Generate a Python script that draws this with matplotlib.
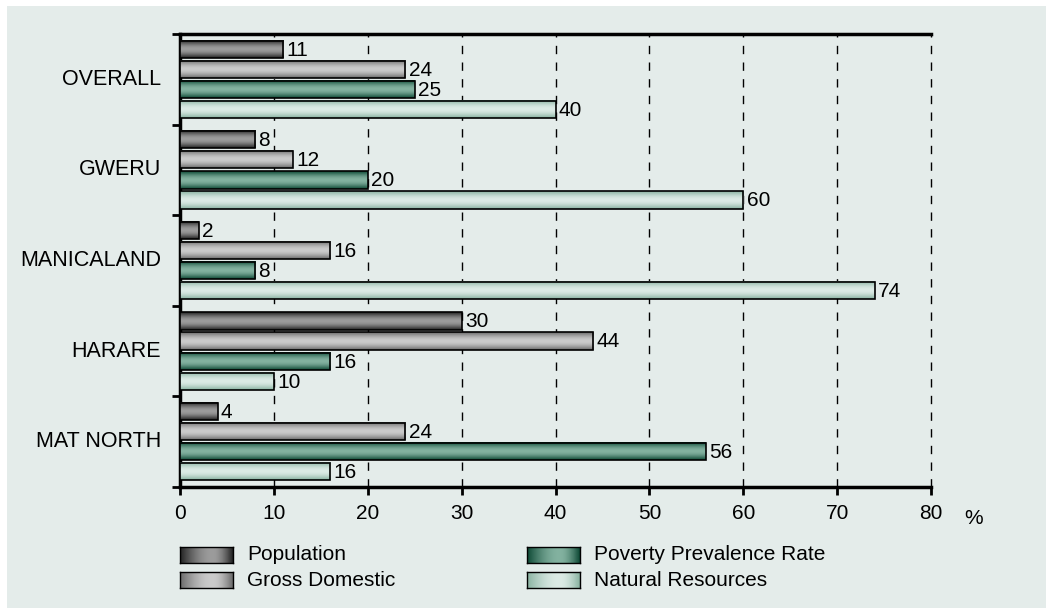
import numpy as np
import matplotlib.pyplot as plt
from matplotlib.colors import to_rgb

regions = ['OVERALL', 'GWERU', 'MANICALAND', 'HARARE', 'MAT NORTH']
series = ['Population', 'Gross Domestic', 'Poverty Prevalence Rate', 'Natural Resources']
population = [11, 8, 2, 30, 4]
gross_domestic = [24, 12, 16, 44, 24]
poverty = [25, 20, 8, 16, 56]
natural = [40, 60, 74, 10, 16]
values = [population, gross_domestic, poverty, natural]

# (edge colour, centre colour) for each series gradient
shades = [('#242424', '#9c9c9c'),
          ('#6c6c6c', '#cbcbcb'),
          ('#0f4a36', '#83b2a0'),
          ('#8ab3a2', '#dcebe5')]

bg = '#e4ecea'
plt.rcParams['font.family'] = ['Liberation Sans', 'DejaVu Sans']

W, H = 1046, 608
fig = plt.figure(figsize=(W / 100, H / 100), dpi=100)
fig.patch.set_facecolor('white')
# light background panel with small white margin on top/left
fig.patches.append(plt.Rectangle((7 / W, 0), 1, 1 - 6 / H, transform=fig.transFigure,
                                 facecolor=bg, edgecolor='none', zorder=-10))


def grad(c_edge, c_mid, n=64, horizontal=False):
    t = np.linspace(0, 1, n)
    if horizontal:
        # light spot sits a bit right of centre in the legend swatches
        f = np.where(t < 0.62, np.sin(np.pi * t / 1.24), np.sin(np.pi * (1 - t) / 0.76))
    else:
        f = np.sin(np.pi * t) ** 1.1
    e = np.array(to_rgb(c_edge))
    m = np.array(to_rgb(c_mid))
    img = e[None, :] + (m - e)[None, :] * f[:, None]
    if horizontal:
        return img[None, :, :]
    return img[:, None, :]


ax = fig.add_axes([180 / W, 1 - 487 / H, (931 - 180) / W, (487 - 34) / H])
ax.set_facecolor('none')

slot = 0.222
pad = (1 - 4 * slot) / 2
bh = 0.19
for g, reg in enumerate(regions):
    for i in range(4):
        v = values[i][g]
        yc = g + pad + (i + 0.5) * slot
        y0, y1 = yc - bh / 2, yc + bh / 2
        ax.imshow(grad(*shades[i]), extent=(0, v, y1, y0), aspect='auto',
                  interpolation='bilinear', zorder=3)
        ax.barh(yc, v, height=bh, facecolor='none', edgecolor='black',
                linewidth=1.2, zorder=4)
        ax.text(v + 0.35, yc + 0.01, str(v), va='center', ha='left',
                fontsize=15, zorder=5)

ax.set_xlim(0, 80)
ax.set_ylim(len(regions), 0)

for x in range(10, 81, 10):
    ax.axvline(x, color='black', linewidth=1, linestyle=(0, (6, 6)), zorder=1,
               clip_on=False)

ax.set_xticks(range(0, 81, 10))
ax.tick_params(axis='x', direction='out', length=6, width=2, labelsize=15, pad=6)
ax.set_yticks(range(0, len(regions) + 1))
ax.set_yticklabels([])
ax.tick_params(axis='y', direction='out', length=6, width=2)
for g, reg in enumerate(regions):
    ax.text(-2.0, g + 0.5, reg, ha='right', va='center', fontsize=15.5)

for s in ['left', 'bottom', 'top']:
    ax.spines[s].set_linewidth(2.5)
ax.spines['right'].set_visible(False)

fig.text(964 / W, 1 - 519 / H, '%', ha='left', va='center', fontsize=15)

# legend drawn by hand with horizontal gradients
leg_pos = [(180, 547), (180, 572), (527, 547), (527, 572)]
for i, (lx, ly) in enumerate(leg_pos):
    lax = fig.add_axes([lx / W, 1 - (ly + 16) / H, 53 / W, 16 / H])
    lax.imshow(grad(*shades[i], horizontal=True), aspect='auto', interpolation='bilinear')
    for s in lax.spines.values():
        s.set_linewidth(1)
    lax.set_xticks([])
    lax.set_yticks([])
    fig.text((lx + 67) / W, 1 - (ly + 8) / H, series[i], ha='left', va='center', fontsize=15)

fig.savefig('out.png', dpi=100, facecolor=fig.get_facecolor())
